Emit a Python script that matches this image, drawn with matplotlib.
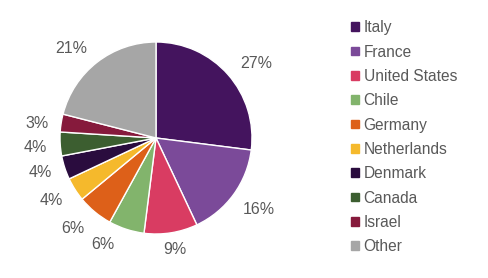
import numpy as np
import matplotlib.pyplot as plt

plt.rcParams['font.family'] = ['Liberation Sans', 'DejaVu Sans']

countries = ["Italy", "France", "United States", "Chile", "Germany",
             "Netherlands", "Denmark", "Canada", "Israel", "Other"]
shares = [27, 16, 9, 6, 6, 4, 4, 4, 3, 21]
colors = ["#44145e", "#7b4a99", "#d93c62", "#82b46c", "#dd6019",
          "#f5b92c", "#2a0c3e", "#3c5e30", "#861a3c", "#a6a6a6"]
# label placement (radius multiple, angle shift from wedge middle)
label_dist = [1.30, 1.30, 1.18, 1.24, 1.28, 1.27, 1.26, 1.26, 1.25, 1.29]
label_shift = [-4.7, 1.2, 0.4, -8.7, -2.9, -1.4, -1.3, 0.9, 1.9, 5.7]

fig = plt.figure(figsize=(4.88, 2.78), dpi=100)
ax = fig.add_axes([(156 - 96) / 488, (140 - 96) / 278, 192 / 488, 192 / 278])

wedges, _ = ax.pie(shares, colors=colors, startangle=90, counterclock=False,
                   radius=1, wedgeprops=dict(edgecolor="white", linewidth=1))
ax.set_xlim(-1, 1)
ax.set_ylim(-1, 1)
ax.set_aspect("equal")
ax.axis("off")

for w, s, d, sh in zip(wedges, shares, label_dist, label_shift):
    ang = np.deg2rad((w.theta1 + w.theta2) / 2 + sh)
    ax.text(d * np.cos(ang), d * np.sin(ang), f"{s}%", ha="center", va="center",
            fontsize=11.5, color="#595959", clip_on=False)

handles = [plt.Rectangle((0, 0), 1, 1, color=c) for c in colors]
fig.legend(handles, countries, loc="upper left", bbox_to_anchor=(345 / 488, 1 - 14 / 278),
           frameon=False, fontsize=11.2, labelcolor="#595959",
           handlelength=0.5, handleheight=0.5, handletextpad=0.3,
           labelspacing=0.6, borderaxespad=0)

fig.savefig("out.png", dpi=100)
